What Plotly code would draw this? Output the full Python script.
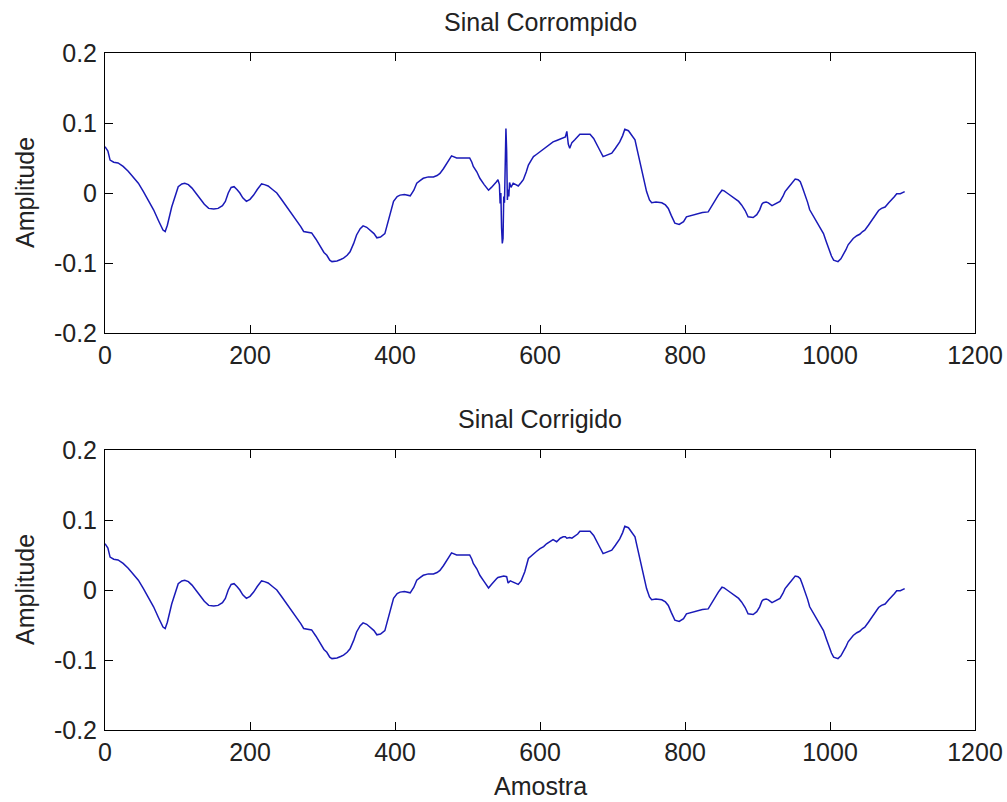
import plotly.graph_objects as go

# ---- data ----
amostra_corrompido = [
    0, 4, 7, 12, 18, 25, 32, 39, 46, 53, 60, 67, 74, 80, 83, 86, 92, 97, 101, 106,
    110, 115, 120, 126, 131, 137, 143, 150, 156, 162, 166, 170, 174, 178, 182, 186, 190, 195, 200, 205,
    210, 216, 220, 225, 231, 237, 244, 251, 257, 264, 270, 274, 280, 285, 291, 297, 302, 306, 310, 313,
    320, 325, 329, 334, 338, 343, 347, 352, 356, 361, 366, 371, 375, 380, 386, 390, 394, 398, 403, 407,
    413, 421, 426, 430, 435, 439, 446, 453, 458, 462, 467, 471, 475, 478, 485, 494, 503, 506, 508, 513,
    517, 523, 529, 533, 536, 540, 542, 544, 545, 546, 547, 548, 549, 550, 551, 552, 553, 554, 555, 556,
    557, 558, 560, 563, 567, 570, 574, 577, 581, 584, 588, 591, 595, 600, 605, 609, 614, 618, 623, 628,
    632, 635, 637, 639, 641, 644, 648, 652, 655, 662, 669, 674, 678, 683, 687, 692, 699, 704, 710, 714,
    717, 722, 727, 731, 734, 738, 742, 747, 751, 754, 760, 768, 773, 777, 781, 786, 792, 798, 802, 809,
    816, 824, 832, 836, 841, 846, 851, 854, 858, 863, 869, 874, 878, 883, 887, 894, 899, 903, 906, 908,
    912, 915, 920, 922, 927, 931, 935, 938, 942, 945, 949, 952, 956, 959, 962, 966, 969, 972, 977, 982,
    986, 991, 995, 998, 1002, 1005, 1011, 1015, 1018, 1022, 1025, 1029, 1032, 1037, 1041, 1045, 1048, 1053, 1058, 1062,
    1067, 1071, 1076, 1081, 1085, 1089, 1092, 1097, 1103,
]
amplitude_corrompido = [
    0.066, 0.060, 0.047, 0.044, 0.043, 0.038, 0.031, 0.023, 0.014, 0.002, -0.010, -0.024, -0.040, -0.053, -0.055, -0.046, -0.020, -0.003, 0.009, 0.013,
    0.014, 0.012, 0.007, -0.001, -0.008, -0.016, -0.022, -0.023, -0.022, -0.018, -0.012, 0.000, 0.008, 0.009, 0.005, 0.000, -0.007, -0.012, -0.009, -0.003,
    0.005, 0.013, 0.012, 0.010, 0.005, 0.000, -0.010, -0.020, -0.030, -0.039, -0.048, -0.055, -0.056, -0.057, -0.066, -0.077, -0.085, -0.089, -0.096, -0.098,
    -0.097, -0.095, -0.093, -0.089, -0.084, -0.072, -0.060, -0.051, -0.047, -0.049, -0.053, -0.058, -0.064, -0.063, -0.058, -0.042, -0.028, -0.012, -0.005, -0.003,
    -0.002, -0.004, 0.004, 0.014, 0.018, 0.021, 0.023, 0.023, 0.025, 0.028, 0.035, 0.042, 0.049, 0.053, 0.050, 0.050, 0.050, 0.044, 0.038, 0.030,
    0.021, 0.012, 0.004, 0.008, 0.011, 0.016, 0.019, 0.012, -0.015, 0.000, -0.050, -0.072, -0.065, -0.005, -0.014, 0.085, 0.092, 0.060, -0.010, 0.005,
    -0.005, 0.015, 0.008, 0.014, 0.011, 0.010, 0.015, 0.019, 0.030, 0.040, 0.047, 0.052, 0.055, 0.059, 0.062, 0.066, 0.069, 0.073, 0.075, 0.077,
    0.078, 0.080, 0.088, 0.070, 0.064, 0.072, 0.076, 0.080, 0.084, 0.084, 0.084, 0.078, 0.069, 0.060, 0.052, 0.054, 0.057, 0.064, 0.073, 0.082,
    0.091, 0.089, 0.082, 0.076, 0.062, 0.042, 0.024, 0.002, -0.010, -0.014, -0.013, -0.014, -0.017, -0.022, -0.032, -0.043, -0.045, -0.041, -0.034, -0.032,
    -0.031, -0.028, -0.027, -0.020, -0.010, -0.003, 0.004, 0.003, 0.000, -0.004, -0.008, -0.012, -0.017, -0.025, -0.034, -0.035, -0.031, -0.024, -0.016, -0.014,
    -0.013, -0.014, -0.018, -0.017, -0.014, -0.012, -0.005, 0.002, 0.007, 0.011, 0.016, 0.020, 0.019, 0.016, 0.008, -0.003, -0.013, -0.024, -0.033, -0.041,
    -0.049, -0.058, -0.070, -0.079, -0.090, -0.096, -0.098, -0.094, -0.089, -0.081, -0.074, -0.068, -0.065, -0.061, -0.059, -0.055, -0.053, -0.046, -0.039, -0.032,
    -0.025, -0.022, -0.020, -0.014, -0.010, -0.005, -0.001, -0.001, 0.002,
]

amostra_corrigido = [
    0, 4, 7, 12, 18, 25, 32, 39, 46, 53, 60, 67, 74, 80, 83, 86, 92, 97, 101, 106,
    110, 115, 120, 126, 131, 137, 143, 150, 156, 162, 166, 170, 174, 178, 182, 186, 190, 195, 200, 205,
    210, 216, 220, 225, 231, 237, 244, 251, 257, 264, 270, 274, 280, 285, 291, 297, 302, 306, 310, 313,
    320, 325, 329, 334, 338, 343, 347, 352, 356, 361, 366, 371, 375, 380, 386, 390, 394, 398, 403, 407,
    413, 421, 426, 430, 435, 439, 446, 453, 458, 462, 467, 471, 475, 478, 485, 494, 503, 506, 508, 513,
    517, 523, 529, 533, 536, 540, 542, 546, 550, 554, 556, 559, 563, 567, 570, 574, 579, 584, 588, 591,
    595, 600, 605, 609, 614, 618, 623, 628, 632, 635, 637, 641, 644, 648, 652, 655, 662, 669, 674, 678,
    683, 687, 692, 699, 704, 710, 714, 717, 722, 727, 731, 734, 738, 742, 747, 751, 754, 760, 768, 773,
    777, 781, 786, 792, 798, 802, 809, 816, 824, 832, 836, 841, 846, 851, 854, 858, 863, 869, 874, 878,
    883, 887, 894, 899, 903, 906, 908, 912, 915, 920, 922, 927, 931, 935, 938, 942, 945, 949, 952, 956,
    959, 962, 966, 969, 972, 977, 982, 986, 991, 995, 998, 1002, 1005, 1011, 1015, 1018, 1022, 1025, 1029, 1032,
    1037, 1041, 1045, 1048, 1053, 1058, 1062, 1067, 1071, 1076, 1081, 1085, 1089, 1092, 1097, 1103,
]
amplitude_corrigido = [
    0.066, 0.060, 0.047, 0.044, 0.043, 0.038, 0.031, 0.023, 0.014, 0.002, -0.010, -0.024, -0.040, -0.053, -0.055, -0.046, -0.020, -0.003, 0.009, 0.013,
    0.014, 0.012, 0.007, -0.001, -0.008, -0.016, -0.022, -0.023, -0.022, -0.018, -0.012, 0.000, 0.008, 0.009, 0.005, 0.000, -0.007, -0.012, -0.009, -0.003,
    0.005, 0.013, 0.012, 0.010, 0.005, 0.000, -0.010, -0.020, -0.030, -0.039, -0.048, -0.055, -0.056, -0.057, -0.066, -0.077, -0.085, -0.089, -0.096, -0.098,
    -0.097, -0.095, -0.093, -0.089, -0.084, -0.072, -0.060, -0.051, -0.047, -0.049, -0.053, -0.058, -0.064, -0.063, -0.058, -0.042, -0.028, -0.012, -0.005, -0.003,
    -0.002, -0.004, 0.004, 0.014, 0.018, 0.021, 0.023, 0.023, 0.025, 0.028, 0.035, 0.042, 0.049, 0.053, 0.050, 0.050, 0.050, 0.044, 0.038, 0.030,
    0.021, 0.012, 0.003, 0.008, 0.012, 0.016, 0.018, 0.019, 0.020, 0.019, 0.010, 0.013, 0.011, 0.010, 0.008, 0.013, 0.026, 0.045, 0.049, 0.052,
    0.055, 0.059, 0.062, 0.066, 0.069, 0.072, 0.069, 0.074, 0.076, 0.076, 0.074, 0.075, 0.074, 0.077, 0.080, 0.084, 0.084, 0.084, 0.078, 0.069,
    0.060, 0.052, 0.054, 0.057, 0.064, 0.073, 0.082, 0.091, 0.089, 0.082, 0.076, 0.062, 0.042, 0.024, 0.002, -0.010, -0.014, -0.013, -0.014, -0.017,
    -0.022, -0.032, -0.043, -0.045, -0.041, -0.034, -0.032, -0.031, -0.028, -0.027, -0.020, -0.010, -0.003, 0.004, 0.003, 0.000, -0.004, -0.008, -0.012, -0.017,
    -0.025, -0.034, -0.035, -0.031, -0.024, -0.016, -0.014, -0.013, -0.014, -0.018, -0.017, -0.014, -0.012, -0.005, 0.002, 0.007, 0.011, 0.016, 0.020, 0.019,
    0.016, 0.008, -0.003, -0.013, -0.024, -0.033, -0.041, -0.049, -0.058, -0.070, -0.079, -0.090, -0.096, -0.098, -0.094, -0.089, -0.081, -0.074, -0.068, -0.065,
    -0.061, -0.059, -0.055, -0.053, -0.046, -0.039, -0.032, -0.025, -0.022, -0.020, -0.014, -0.010, -0.005, -0.001, -0.001, 0.002,
]

x_ticks = [0, 200, 400, 600, 800, 1000, 1200]
x_tick_labels = ["0", "200", "400", "600", "800", "1000", "1200"]
y_ticks = [-0.2, -0.1, 0, 0.1, 0.2]
y_tick_labels = ["-0.2", "-0.1", "0", "0.1", "0.2"]

titulo_1 = "Sinal Corrompido"
titulo_2 = "Sinal Corrigido"
rotulo_x = "Amostra"
rotulo_y = "Amplitude"

# ---- figure ----
FONT = "Liberation Sans, Arial, sans-serif"
LINE = "#1a1ab8"
TXT = "#222222"

fig = go.Figure()
fig.add_trace(go.Scatter(x=amostra_corrompido, y=amplitude_corrompido, mode="lines",
                         line=dict(color=LINE, width=1.5), xaxis="x", yaxis="y",
                         showlegend=False))
fig.add_trace(go.Scatter(x=amostra_corrigido, y=amplitude_corrigido, mode="lines",
                         line=dict(color=LINE, width=1.5), xaxis="x2", yaxis="y2",
                         showlegend=False))

W, H = 1007, 802
ml, mr, mt, mb = 105, 32, 53, 72
ph = H - mt - mb
top_lo = (H - mb - 333) / ph
bot_hi = (H - mb - 450) / ph

axis_common = dict(
    showgrid=False, zeroline=False, showline=True, linecolor="black", linewidth=1,
    mirror="ticks", ticks="inside", ticklen=8, tickcolor="black", tickwidth=1,
    automargin=False,
    tickfont=dict(family=FONT, size=25, color=TXT),
)

fig.update_layout(
    width=W, height=H,
    margin=dict(l=ml, r=mr, t=mt, b=mb, autoexpand=False),
    paper_bgcolor="white", plot_bgcolor="white",
    xaxis=dict(domain=[0, 1], anchor="y", range=[0, 1200], tickvals=x_ticks,
               ticktext=x_tick_labels, ticklabelstandoff=0, **axis_common),
    yaxis=dict(domain=[top_lo, 1], anchor="x", range=[-0.2, 0.2], tickvals=y_ticks,
               ticktext=y_tick_labels, ticklabelstandoff=2, **axis_common),
    xaxis2=dict(domain=[0, 1], anchor="y2", range=[0, 1200], tickvals=x_ticks,
                ticktext=x_tick_labels, ticklabelstandoff=0, **axis_common),
    yaxis2=dict(domain=[0, bot_hi], anchor="x2", range=[-0.2, 0.2], tickvals=y_ticks,
                ticktext=y_tick_labels, ticklabelstandoff=2, **axis_common),
)

def py(pix):
    return (H - mb - pix) / ph

def px(pix):
    return (pix - ml) / (W - ml - mr)

ann_font = dict(family=FONT, size=25, color=TXT)
annotations = [
    dict(text=titulo_1, x=0.5, y=py(22), xref="paper", yref="paper",
         xanchor="center", yanchor="middle", showarrow=False, font=ann_font),
    dict(text=titulo_2, x=0.5, y=py(419), xref="paper", yref="paper",
         xanchor="center", yanchor="middle", showarrow=False, font=ann_font),
    dict(text=rotulo_x, x=0.5, y=py(786), xref="paper", yref="paper",
         xanchor="center", yanchor="middle", showarrow=False, font=ann_font),
    dict(text=rotulo_y, x=px(25), y=py(193), xref="paper", yref="paper", textangle=-90,
         xanchor="center", yanchor="middle", showarrow=False, font=ann_font),
    dict(text=rotulo_y, x=px(25), y=py(590), xref="paper", yref="paper", textangle=-90,
         xanchor="center", yanchor="middle", showarrow=False, font=ann_font),
]
fig.update_layout(annotations=annotations)

fig.write_html("out.html")
